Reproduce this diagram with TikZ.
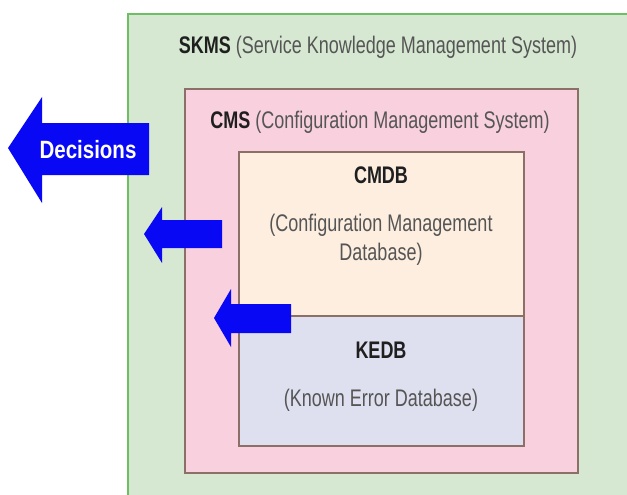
\documentclass[tikz,border=0pt]{standalone}
\usepackage{fontspec}
\setmainfont[FakeStretch=0.75]{Liberation Sans}
\newfontfamily\arrowfont[FakeStretch=0.82]{Liberation Sans}
\usetikzlibrary{positioning}

\definecolor{skmsfill}{RGB}{214,232,210}
\definecolor{skmsline}{RGB}{110,190,100}
\definecolor{cmsfill}{RGB}{248,208,222}
\definecolor{boxline}{RGB}{140,112,104}
\definecolor{cmdbfill}{RGB}{253,238,224}
\definecolor{kedbfill}{RGB}{222,224,239}
\definecolor{arrowblue}{RGB}{8,8,245}
\definecolor{subgrey}{RGB}{85,85,85}

\begin{document}
\begin{tikzpicture}[
    x=1pt, y=-1pt,
    layer/.style={draw=boxline, line width=1.3pt, anchor=north west, outer sep=0pt, inner sep=0pt},
    title/.style={font=\fontsize{24}{28}\selectfont\bfseries, text=black!88},
    subtitle/.style={font=\fontsize{24}{29}\selectfont, text=subgrey, align=center},
    blockarrow/.style={fill=arrowblue}
    ]
    \clip (0,0) rectangle (627,495);
    \fill[white] (0,0) rectangle (627,495);

    % nested layers
    \node[layer, draw=skmsline, fill=skmsfill, minimum width=520pt, minimum height=500pt] (skms) at (128,14) {};
    \node[layer, fill=cmsfill, minimum width=393pt, minimum height=384pt] (cms) at (185,89) {};
    \node[layer, fill=cmdbfill, minimum width=285pt, minimum height=164pt] (cmdb) at (239,152) {};
    \node[layer, fill=kedbfill, minimum width=285pt, minimum height=130pt, below=0pt of cmdb.south west, anchor=north west] (kedb) {};

    \node[title] (skmslabel) at (378,47) {SKMS \mdseries\color{subgrey}(Service Knowledge Management System)};
    \node[title] (cmslabel) at (380,122) {CMS \mdseries\color{subgrey}(Configuration Management System)};
    \node[title] (cmdbtitle) at (381,175) {CMDB};
    \node[subtitle] (cmdbsub) at (381,240) {(Configuration Management\\Database)};
    \node[title] (kedbtitle) at (381,350) {KEDB};
    \node[subtitle] (kedbsub) at (381,400) {(Known Error Database)};

    % block arrows pointing out
    \fill[blockarrow] (8,148) -- (42,97) -- (42,123) -- (149,123) -- (149,175) -- (42,175) -- (42,203) -- cycle;
    \fill[blockarrow] (144,234) -- (162,207) -- (162,220) -- (222,220) -- (222,248) -- (162,248) -- (162,263) -- cycle;
    \fill[blockarrow] (214,318) -- (231,289) -- (231,304) -- (291,304) -- (291,333) -- (231,333) -- (231,347) -- cycle;
    \node[font=\arrowfont\fontsize{25}{28}\selectfont\bfseries, text=white] (decisions) at (88,150) {Decisions};
\end{tikzpicture}
\end{document}
